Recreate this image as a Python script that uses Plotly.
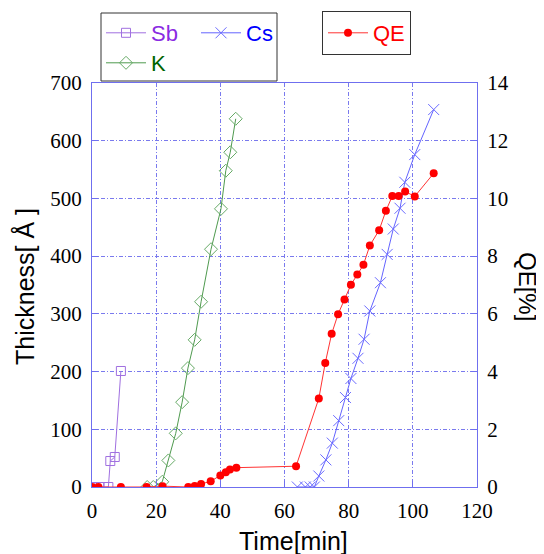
import plotly.graph_objects as go

# ---- data ----
sb_time = [0, 2.3, 5.1, 5.7, 7.1, 9.0]
sb_thick = [0, 0, 0, 45, 52, 201]

cs_time = [64, 66.5, 68, 69.3, 70.7, 72.9, 74.9, 76.9, 79.0, 80.7, 82.9, 84.8, 86.6, 89.9, 92.0, 93.9, 96.0, 97.5, 100.6, 106.5]
cs_thick = [0, 0, 0, 0, 19, 47, 76, 115, 155, 188, 223, 256, 305, 354, 403, 447, 483, 528, 576, 654]

k_time = [17.2, 19.1, 21.9, 23.8, 26.1, 28.1, 29.9, 32.0, 34.0, 37.1, 40.2, 41.7, 43.1, 44.8]
k_thick = [0, 0, 9, 46, 93, 147, 206, 255, 321, 412, 482, 548, 580, 638]

qe_time = [0, 2, 9, 17, 22, 30, 32, 34, 37, 40, 41.7, 43, 45,
           63.6, 70.7, 72.7, 74.7, 76.7, 78.7, 80.7, 82.7, 84.6, 86.6, 89.5,
           91.6, 93.6, 95.6, 97.6, 100.6, 106.5]
qe_val = [0, 0, 0, 0, 0.03, 0, 0.035, 0.1, 0.2, 0.4, 0.51, 0.61, 0.67,
          0.72, 3.07, 4.3, 5.31, 5.99, 6.5, 7.01, 7.36, 7.7, 8.37, 8.9,
          9.57, 10.08, 10.08, 10.24, 10.07, 10.87]

x_ticks = [0, 20, 40, 60, 80, 100, 120]
y_ticks = [0, 100, 200, 300, 400, 500, 600, 700]
y2_ticks = [0, 2, 4, 6, 8, 10, 12, 14]

# ---- layout constants (page has an 8px body margin) ----
OFF = 8
W, H = 544 - OFF, 554 - OFF
ML, MR, MT, MB = 92 - OFF, 67, 83 - OFF, 67
PW, PH = W - ML - MR, H - MT - MB


def px(xp):
    return (xp - OFF - ML) / PW


def py(yp):
    return (H - MB - (yp - OFF)) / PH


AX = "#6f6fef"
GRID = "#7a7aee"
SERIF = "Liberation Serif, Times New Roman, serif"
SANS = "Liberation Sans, Arial, sans-serif"

fig = go.Figure()

fig.add_trace(go.Scatter(
    x=sb_time, y=sb_thick, mode="lines+markers",
    name="<span style='color:#8a2be2'>Sb</span>",
    line=dict(color="#a070e0", width=1),
    marker=dict(symbol="square-open", size=9, color="#a070e0", line=dict(width=1)),
    legend="legend",
))
fig.add_trace(go.Scatter(
    x=cs_time, y=cs_thick, mode="lines+markers",
    name="<span style='color:#0000ff'>Cs</span>",
    line=dict(color="#6464ff", width=1),
    marker=dict(symbol="x-thin-open", size=11, color="#6b6bff", line=dict(width=1, color="#6b6bff")),
    legend="legend",
))
fig.add_trace(go.Scatter(
    x=k_time, y=k_thick, mode="lines+markers",
    name="<span style='color:#006400'>K</span>",
    line=dict(color="#4f9a4f", width=1),
    marker=dict(symbol="diamond-open", size=10, color="#66aa66", line=dict(width=1)),
    legend="legend2",
))
fig.add_trace(go.Scatter(
    x=qe_time, y=qe_val, mode="lines+markers",
    name="<span style='color:#ff0000'>QE</span>",
    line=dict(color="#ff3333", width=1),
    marker=dict(symbol="circle", size=8, color="#ff0000"),
    yaxis="y2",
    legend="legend3",
))

axis_common = dict(
    showline=True, linecolor=AX, linewidth=1,
    ticks="inside", ticklen=6, tickcolor=AX, tickwidth=1,
    tickfont=dict(family=SERIF, size=21, color="black"),
    zeroline=False,
    ticklabelstandoff=5,
)

fig.update_layout(
    width=W, height=H,
    margin=dict(l=ML, r=MR, t=MT, b=MB, autoexpand=False),
    paper_bgcolor="white", plot_bgcolor="white",
    xaxis=dict(range=[0, 120], tickvals=x_ticks, mirror=True,
               showgrid=True, gridcolor=GRID, gridwidth=1, griddash="4px,2px,1px,2px",
               **axis_common),
    yaxis=dict(range=[0, 700], tickvals=y_ticks, mirror=True,
               showgrid=True, gridcolor=GRID, gridwidth=1, griddash="4px,2px,1px,2px",
               **axis_common),
    yaxis2=dict(range=[0, 14], tickvals=y2_ticks, overlaying="y", side="right",
                showgrid=False, **axis_common),
    legend=dict(orientation="h", x=px(101), y=py(12), xanchor="left", yanchor="top",
                font=dict(family=SANS, size=22), bgcolor="rgba(0,0,0,0)",
                borderwidth=0, itemwidth=40, entrywidth=40, entrywidthmode="pixels"),
    legend2=dict(orientation="h", x=px(101), y=py(42), xanchor="left", yanchor="top",
                 font=dict(family=SANS, size=22), bgcolor="rgba(0,0,0,0)",
                 borderwidth=0, itemwidth=40),
    legend3=dict(orientation="h", x=px(322), y=py(11), xanchor="left", yanchor="top",
                 font=dict(family=SANS, size=22), bgcolor="white",
                 bordercolor="#333333", borderwidth=1, itemwidth=40),
    showlegend=True,
)

fig.add_shape(type="rect", xref="paper", yref="paper",
              x0=px(101), x1=px(277), y0=py(81), y1=py(13),
              line=dict(color="#333333", width=1), fillcolor="rgba(0,0,0,0)")

fig.add_annotation(text="Time[min]", xref="paper", yref="paper",
                   x=px(293), y=py(541), xanchor="center", yanchor="middle",
                   showarrow=False,
                   font=dict(family=SANS, size=25, color="black"))
fig.add_annotation(text="Thickness[ Å ]",
                   xref="paper", yref="paper",
                   x=px(24), y=py(287), xanchor="center", yanchor="middle",
                   showarrow=False, textangle=-90,
                   font=dict(family=SANS, size=25, color="black"))
fig.add_annotation(text="QE[%]", xref="paper", yref="paper",
                   x=px(528), y=py(286), xanchor="center", yanchor="middle",
                   showarrow=False, textangle=90,
                   font=dict(family=SANS, size=24, color="black"))

fig.write_html("out.html")
